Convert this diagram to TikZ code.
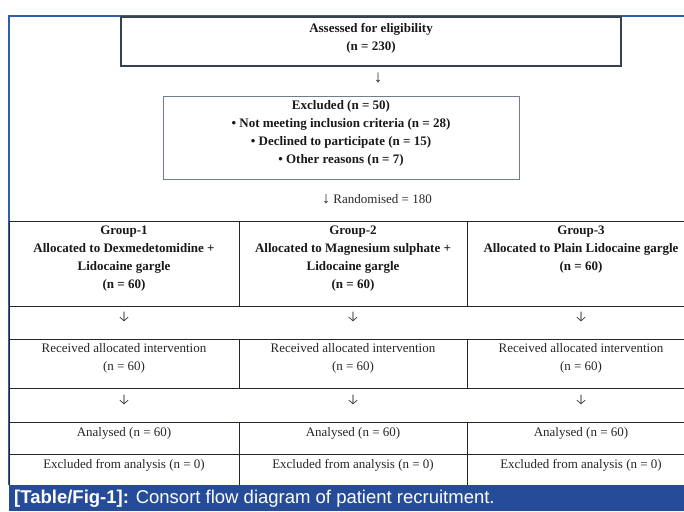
\documentclass[tikz,border=0pt]{standalone}
\usepackage{fontspec}
\setmainfont{Liberation Serif}
\setsansfont{Liberation Sans}
\newfontfamily\arrowfont{Fira Sans Light}
\usetikzlibrary{positioning}

\definecolor{framebl}{RGB}{48,92,178}
\definecolor{capbl}{RGB}{38,76,153}
\definecolor{boxdark}{RGB}{55,65,80}
\definecolor{boxgrey}{RGB}{112,126,142}
\definecolor{ruleln}{RGB}{35,38,45}

\tikzset{
  boldtxt/.style={font=\bfseries\fontsize{13}{18}\selectfont, align=center, inner sep=0pt, text=black!90},
  plaintxt/.style={font=\fontsize{13}{18}\selectfont, align=center, inner sep=0pt, text=black!85},
  thinarrow/.style={font=\fontsize{17}{19}\selectfont, inner sep=0pt, text=black!85},
  downarrow/.style={font=\arrowfont\fontsize{15}{17}\selectfont, inner sep=0pt, text=black!85},
  cell/.style={draw=ruleln, line width=0.9pt},
}

\begin{document}
\begin{tikzpicture}[x=1pt,y=-1pt]
  \useasboundingbox (0,0) rectangle (684,511);
% Frame
  \draw[framebl, line width=1.3pt] (9,485) -- (9,16) -- (684,16);
% Assessment
  \draw[boxdark, line width=1.4pt] (121,17) rectangle (621,66);
  \node[boldtxt] (assess) at (371,38) {Assessed for eligibility\\(n = 230)};
  \node[thinarrow] (arrA) at (378,78) {↓};
% Exclusion
  \draw[boxgrey, line width=0.8pt] (163,96) rectangle (519,179);
  \node[boldtxt] (excl) at (341,133) {Excluded (n = 50)\\• Not meeting inclusion criteria (n = 28)\\• Declined to participate (n = 15)\\• Other reasons (n = 7)};
  \node[plaintxt, anchor=west] (rand) at (322,199) {\fontsize{16}{18}\selectfont↓\fontsize{13}{18}\selectfont{} Randomised = 180};
% Table rules
  \draw[cell] (9,221) -- (684,221);
  \draw[cell] (9,306) -- (684,306);
  \draw[cell] (9,339) -- (684,339);
  \draw[cell] (9,388) -- (684,388);
  \draw[cell] (9,422) -- (684,422);
  \draw[cell] (9,454) -- (684,454);
  \draw[cell] (9,221) -- (9,485);
  \foreach \xc in {239,467} {
    \draw[cell] (\xc,221) -- (\xc,306);
    \draw[cell] (\xc,339) -- (\xc,388);
    \draw[cell] (\xc,422) -- (\xc,485);
  }
% Groups
  \node[boldtxt] (grpA) at (124,258.5) {Group-1\\Allocated to Dexmedetomidine +\\Lidocaine gargle\\(n = 60)};
  \node[boldtxt] (grpB) at (353,258.5) {Group-2\\Allocated to Magnesium sulphate +\\Lidocaine gargle\\(n = 60)};
  \node[boldtxt] (grpC) at (581,250) {Group-3\\Allocated to Plain Lidocaine gargle\\(n = 60)};
% Follow-up rows
  \foreach \xc/\nm in {124/A,353/B,581/C} {
    \node[downarrow] (down\nm) at (\xc,317) {↓};
    \node[plaintxt] (recv\nm) at (\xc,358) {Received allocated intervention\\(n = 60)};
    \node[downarrow] (next\nm) at (\xc,400) {↓};
    \node[plaintxt] (anal\nm) at (\xc,433) {Analysed (n = 60)};
    \node[plaintxt] (drop\nm) at (\xc,465) {Excluded from analysis (n = 0)};
  }
% Caption
  \fill[capbl] (9,485) rectangle (684,511);
  \node[anchor=west, inner sep=0pt, text=white, font=\sffamily\fontsize{18.5}{20}\selectfont] (cap) at (14,499)
    {\textbf{[Table/Fig-1]:} Consort flow diagram of patient recruitment.};
\end{tikzpicture}
\end{document}
